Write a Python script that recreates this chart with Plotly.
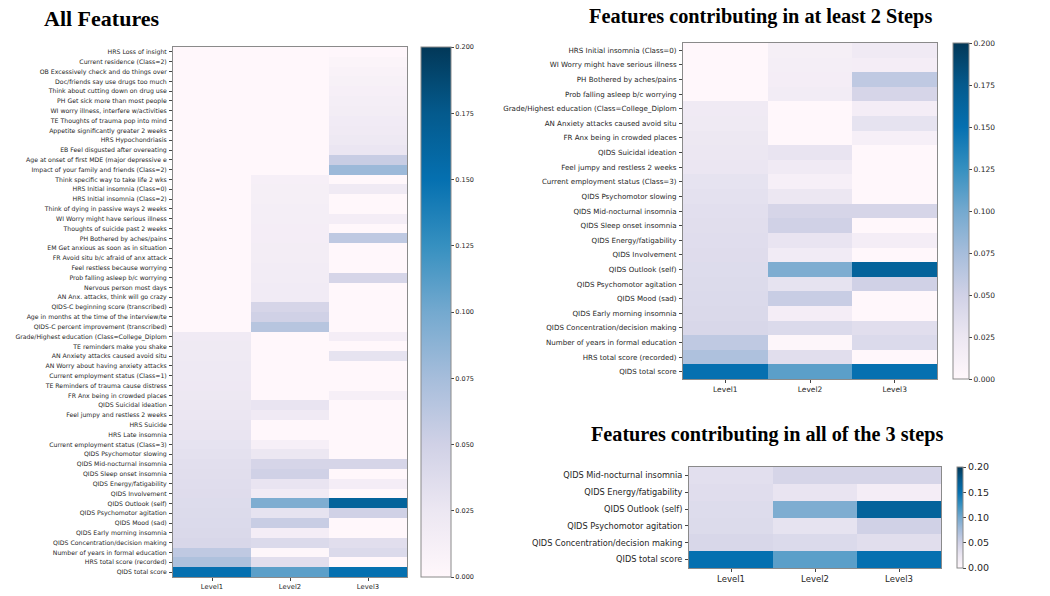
import plotly.graph_objects as go

levels = ["Level1", "Level2", "Level3"]

features_all = [
    "HRS Loss of insight", "Current residence (Class=2)", "OB Excessively check and do things over",
    "Doc/friends say use drugs too much", "Think about cutting down on drug use",
    "PH Get sick more than most people", "WI worry illness, interfere w/activities",
    "TE Thoughts of trauma pop into mind", "Appetite significantly greater 2 weeks",
    "HRS Hypochondriasis", "EB Feel disgusted after overeating",
    "Age at onset of first MDE (major depressive e", "Impact of your family and friends (Class=2)",
    "Think specific way to take life 2 wks", "HRS Initial insomnia (Class=0)",
    "HRS Initial insomnia (Class=2)", "Think of dying in passive ways 2 weeks",
    "WI Worry might have serious illness", "Thoughts of suicide past 2 weeks",
    "PH Bothered by aches/pains", "EM Get anxious as soon as in situation",
    "FR Avoid situ b/c afraid of anx attack", "Feel restless because worrying",
    "Prob falling asleep b/c worrying", "Nervous person most days",
    "AN Anx. attacks, think will go crazy", "QIDS-C beginning score (transcribed)",
    "Age in months at the time of the interview/te", "QIDS-C percent improvement (transcribed)",
    "Grade/Highest education (Class=College_Diplom", "TE reminders make you shake",
    "AN Anxiety attacks caused avoid situ", "AN Worry about having anxiety attacks",
    "Current employment status (Class=1)", "TE Reminders of trauma cause distress",
    "FR Anx being in crowded places", "QIDS Suicidal ideation", "Feel jumpy and restless 2 weeks",
    "HRS Suicide", "HRS Late insomnia", "Current employment status (Class=3)",
    "QIDS Psychomotor slowing", "QIDS Mid-nocturnal insomnia", "QIDS Sleep onset insomnia",
    "QIDS Energy/fatigability", "QIDS Involvement", "QIDS Outlook (self)",
    "QIDS Psychomotor agitation", "QIDS Mood (sad)", "QIDS Early morning insomnia",
    "QIDS Concentration/decision making", "Number of years in formal education",
    "HRS total score (recorded)", "QIDS total score",
]

level1_all = [
    0, 0, 0, 0, 0, 0, 0, 0, 0, 0, 0, 0, 0,
    0, 0, 0, 0, 0, 0, 0, 0, 0, 0, 0, 0, 0, 0, 0, 0,
    0.020, 0.021, 0.021, 0.022, 0.022, 0.023, 0.024, 0.025, 0.026, 0.027, 0.028, 0.030,
    0.032, 0.034, 0.035, 0.036, 0.037, 0.038, 0.039, 0.040, 0.041, 0.043,
    0.060, 0.070, 0.150,
]

level2_all = [
    0, 0, 0, 0, 0, 0, 0, 0, 0, 0, 0, 0, 0,
    0.012, 0.013, 0.013, 0.014, 0.014, 0.015, 0.015, 0.016, 0.016, 0.017, 0.017, 0.018, 0.018,
    0.045, 0.050, 0.065,
    0, 0, 0, 0, 0, 0, 0,
    0.028, 0.020, 0, 0, 0.012, 0.025, 0.045, 0.050, 0.028, 0.018, 0.095, 0.030, 0.055, 0.015,
    0.040, 0.002, 0.035, 0.110,
]

level3_all = [
    0.001, 0.005, 0.008, 0.010, 0.012, 0.014, 0.016, 0.018, 0.020, 0.022, 0.026, 0.055, 0.080,
    0, 0.020, 0, 0, 0.015, 0, 0.060, 0, 0, 0, 0.045, 0, 0, 0, 0, 0,
    0.015, 0, 0.030, 0, 0, 0, 0.012,
    0, 0, 0, 0, 0, 0, 0.045, 0, 0.015, 0, 0.165, 0.050, 0, 0,
    0.035, 0.040, 0, 0.150,
]

features_two_steps = [
    "HRS Initial insomnia (Class=0)", "WI Worry might have serious illness",
    "PH Bothered by aches/pains", "Prob falling asleep b/c worrying",
    "Grade/Highest education (Class=College_Diplom", "AN Anxiety attacks caused avoid situ",
    "FR Anx being in crowded places", "QIDS Suicidal ideation", "Feel jumpy and restless 2 weeks",
    "Current employment status (Class=3)", "QIDS Psychomotor slowing",
    "QIDS Mid-nocturnal insomnia", "QIDS Sleep onset insomnia", "QIDS Energy/fatigability",
    "QIDS Involvement", "QIDS Outlook (self)", "QIDS Psychomotor agitation", "QIDS Mood (sad)",
    "QIDS Early morning insomnia", "QIDS Concentration/decision making",
    "Number of years in formal education", "HRS total score (recorded)", "QIDS total score",
]

features_three_steps = [
    "QIDS Mid-nocturnal insomnia", "QIDS Energy/fatigability", "QIDS Outlook (self)",
    "QIDS Psychomotor agitation", "QIDS Concentration/decision making", "QIDS total score",
]

lookup = {f: (a, b, c) for f, a, b, c in zip(features_all, level1_all, level2_all, level3_all)}


def zmat(feats):
    return [list(lookup[f]) for f in feats]


W, H = 1050, 596
FONT = "DejaVu Sans"
GRID = "#8a8a8a"
TXT = "#262626"


def px(x):
    return x / W


def py(y):
    return 1 - y / H


fig = go.Figure()

panels = [
    dict(feats=features_all, x0=173, x1=407, yt=47, yb=577, cbx=421, cbw=30, fs=6.2, xfs=6.8,
         cbfs=6.5, fmt=".3f", dt=0.025, ax=""),
    dict(feats=features_two_steps, x0=683, x1=937, yt=43, yb=379, cbx=953, cbw=16, fs=7.1, xfs=7.5,
         cbfs=7.5, fmt=".3f", dt=0.025, ax="2"),
    dict(feats=features_three_steps, x0=689, x1=941, yt=467, yb=568, cbx=957, cbw=6, fs=8.2, xfs=8.5,
         cbfs=9.5, fmt=".2f", dt=0.05, ax="3"),
]

layout_axes = {}
for p in panels:
    xa = "x" + p["ax"]
    ya = "y" + p["ax"]
    fig.add_trace(go.Heatmap(
        z=zmat(p["feats"]), x=levels, y=p["feats"], xaxis=xa, yaxis=ya,
        colorscale="PuBu", zmin=0, zmax=0.2, showscale=True,
        colorbar=dict(
            x=px(p["cbx"]), xanchor="left", xpad=0,
            y=py(p["yt"]), yanchor="top", ypad=0,
            len=(p["yb"] - p["yt"]) / H, lenmode="fraction",
            thickness=p["cbw"], thicknessmode="pixels",
            outlinecolor=GRID, outlinewidth=1,
            ticks="outside", ticklen=3, tickcolor="#444",
            tickformat=p["fmt"], dtick=p["dt"], tick0=0,
            tickfont=dict(family=FONT, size=p["cbfs"], color=TXT),
        ),
        hoverongaps=False,
    ))
    layout_axes["xaxis" + p["ax"]] = dict(
        domain=[px(p["x0"]), px(p["x1"])], anchor=ya,
        showline=True, mirror=True, linecolor=GRID, linewidth=1,
        ticks="outside", ticklen=3, tickcolor="#444", showgrid=False, zeroline=False,
        tickfont=dict(family=FONT, size=p["xfs"], color=TXT), fixedrange=True,
    )
    layout_axes["yaxis" + p["ax"]] = dict(
        domain=[py(p["yb"]), py(p["yt"])], anchor=xa, autorange="reversed",
        showline=True, mirror=True, linecolor=GRID, linewidth=1,
        ticks="outside", ticklen=3, tickcolor="#444", showgrid=False, zeroline=False,
        tickfont=dict(family=FONT, size=p["fs"], color=TXT), fixedrange=True,
        ticklabelstandoff=1,
    )

fig.update_layout(**layout_axes)

titles = [
    ("All Features", 102, 18, 22),
    ("Features contributing in at least 2 Steps", 760, 17, 20.3),
    ("Features contributing in all of the 3 steps", 767, 434, 20.2),
]
for text, x, y, s in titles:
    fig.add_annotation(text="<b>%s</b>" % text, x=px(x), y=py(y), xref="paper", yref="paper",
                       xanchor="center", yanchor="middle", showarrow=False,
                       font=dict(family="Liberation Serif", size=s, color="#000"))

fig.update_layout(
    width=W, height=H, margin=dict(l=0, r=0, t=0, b=0),
    paper_bgcolor="white", plot_bgcolor="white", showlegend=False,
)

fig.write_html("out.html", config={"displayModeBar": False},
               post_script="document.body.style.margin='0';document.body.style.overflow='hidden';")
